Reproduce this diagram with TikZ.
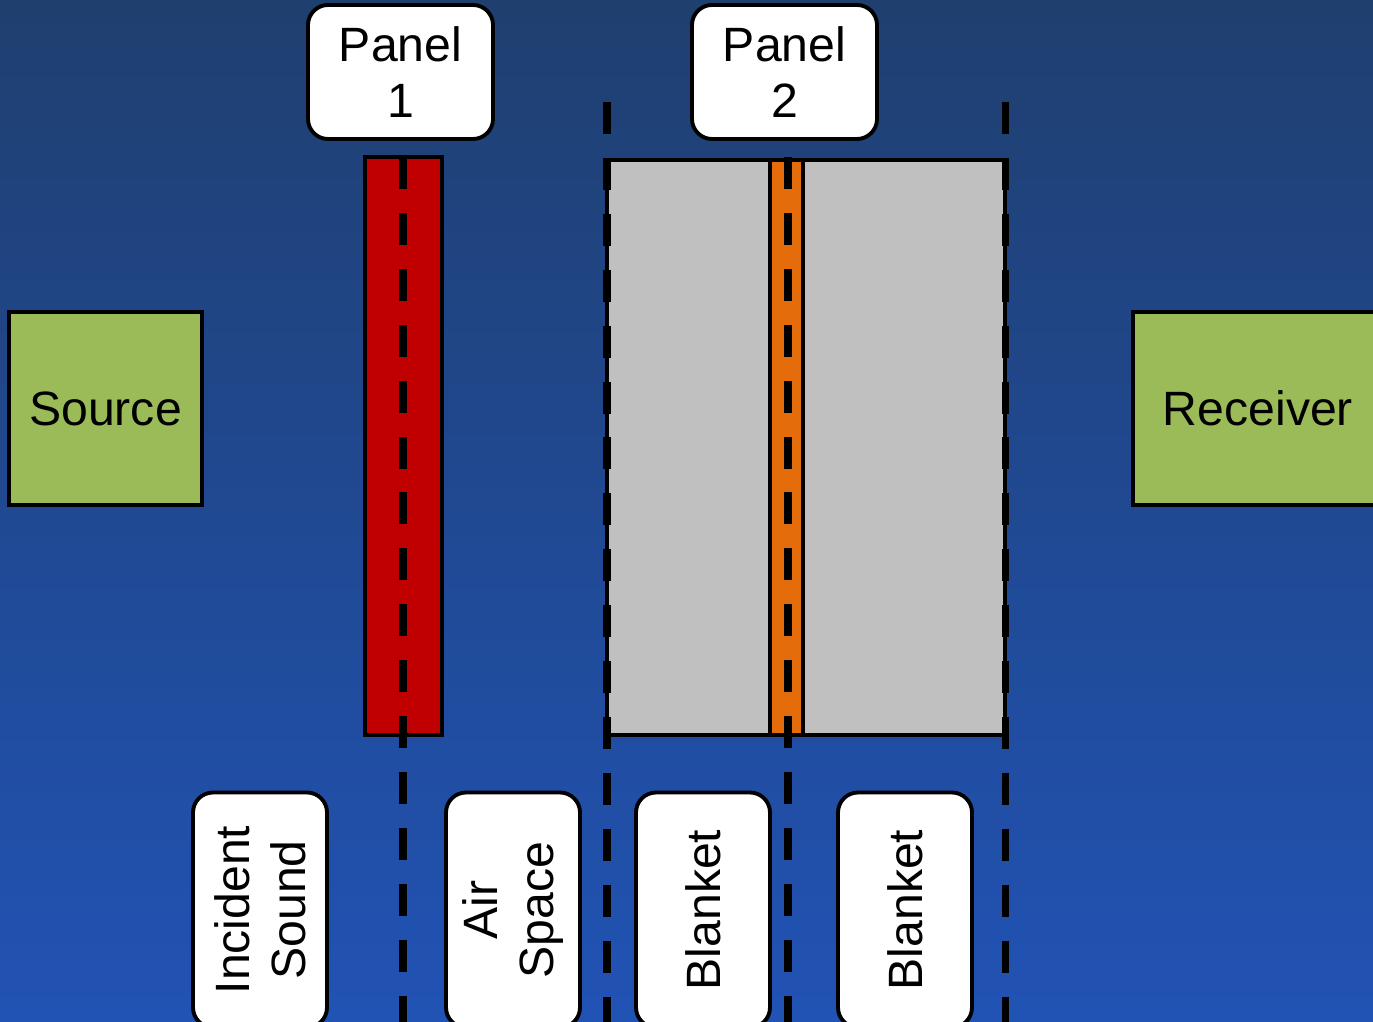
\documentclass[tikz,border=0pt]{standalone}
\usepackage{fontspec}
\setmainfont{Liberation Sans}
\begin{document}
\begin{tikzpicture}[x=0.01cm,y=-0.01cm,
  every node/.style={font=\fontsize{13.7}{15.8}\selectfont, inner sep=0pt, outer sep=0pt},
  greenbox/.style={draw=black, line width=1.1pt, fill=boxgreen, minimum width=193*0.01cm, minimum height=193*0.01cm},
  tag/.style={draw=black, line width=1.1pt, fill=white, rounded corners=0.2cm, align=center},
  layer/.style={draw=black, line width=1.1pt},
  guide/.style={draw=black, line width=2pt, dash pattern=on 9.1pt off 6.8pt}]
\definecolor{bgtop}{HTML}{1F3F6F}
\definecolor{bgmid}{HTML}{1E467C}
\definecolor{bgbot}{HTML}{2153B5}
\definecolor{boxgreen}{HTML}{9BBB59}
\definecolor{panelred}{HTML}{C00000}
\definecolor{blanketgrey}{HTML}{C0C0C0}
\definecolor{septumorange}{HTML}{E46C0A}

\useasboundingbox (0,0) rectangle (1373,1022);
\shade[top color=bgtop, middle color=bgmid, bottom color=bgbot] (0,0) rectangle (1373,1022);

% source and receiver
\node[greenbox] (source) at (105.5,408.5) {Source};
\node[greenbox, minimum width=250*0.01cm] (receiver) at (1258,408.5) {Receiver};

% panel 1 (solid) and panel 2 (blanket / septum / blanket)
\node[layer, fill=panelred, minimum width=77*0.01cm, minimum height=578*0.01cm] (panel1) at (403.5,446) {};
\node[layer, fill=blanketgrey, minimum width=398*0.01cm, minimum height=575*0.01cm] (blankets) at (806,447.5) {};
\node[layer, fill=septumorange, minimum width=33*0.01cm, minimum height=575*0.01cm] (septum) at (786.5,447.5) {};

% interface guides
\coordinate (g1t) at (403,157);  \coordinate (g1b) at (403,1030);
\coordinate (g2t) at (607,102);  \coordinate (g2b) at (607,1030);
\coordinate (g3t) at (788,157);  \coordinate (g3b) at (788,1030);
\coordinate (g4t) at (1005,102); \coordinate (g4b) at (1005,1030);
\draw[guide] (g1t) -- (g1b);
\draw[guide] (g2t) -- (g2b);
\draw[guide] (g3t) -- (g3b);
\draw[guide] (g4t) -- (g4b);

% top labels
\node[tag, minimum width=185*0.01cm, minimum height=134*0.01cm] (lab1) at (400.5,72) {Panel\\1};
\node[tag, minimum width=185*0.01cm, minimum height=134*0.01cm] (lab2) at (784.5,72) {Panel\\2};

% region labels along the bottom
\tikzset{region/.style={tag, rotate=90, minimum width=235*0.01cm, minimum height=134*0.01cm}}
\node[region] (incident) at (260,910) {Incident\\Sound};
\node[region] (air) at (513,910) {Air\\Space};
\node[region] (blanket1) at (703,910) {Blanket};
\node[region] (blanket2) at (905,910) {Blanket};
\end{tikzpicture}
\end{document}
